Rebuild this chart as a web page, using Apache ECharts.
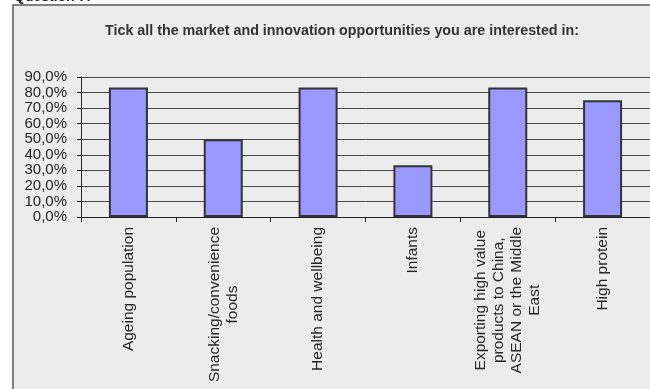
<!DOCTYPE html>
<html>
<head>
<meta charset="utf-8">
<script src="https://cdn.jsdelivr.net/npm/echarts@6/dist/echarts.min.js"></script>
<style>
  html, body { margin: 0; padding: 0; background: #fff; }
  #chart { width: 650px; height: 389px; }
</style>
</head>
<body>
<div id="chart"></div>
<script>
// Survey answers: share of respondents interested in each opportunity
const categories = [
  'Ageing population',
  'Snacking/convenience\nfoods',
  'Health and wellbeing',
  'Infants',
  'Exporting high value\nproducts to China,\nASEAN or the Middle\nEast',
  'High protein'
];
const shares = [83.3, 50.0, 83.3, 33.3, 83.3, 75.0];
const titleText = 'Tick all the market and innovation opportunities you are interested in:';
const questionText = 'Question 7:';

const FONT = '"Liberation Sans", Arial, sans-serif';
const TEXT = '#262626';

// The heading is set in a condensed semi-bold face; squeeze a bold face to that width.
const TITLE_FONT = 'bold 15.5px ' + FONT;
const TITLE_WIDTH = 474;
const ctx = document.createElement('canvas').getContext('2d');
ctx.font = TITLE_FONT;
const titleScaleX = TITLE_WIDTH / ctx.measureText(titleText).width;

const chart = echarts.init(document.getElementById('chart'), null, { renderer: 'canvas' });

chart.setOption({
  backgroundColor: '#ffffff',
  animation: false,
  graphic: [
    {
      type: 'rect',
      z: -10,
      shape: { x: 13, y: 5, width: 660, height: 400 },
      style: { fill: '#ececec', stroke: '#5a5a5a', lineWidth: 1.5 }
    },
    {
      type: 'text',
      left: 14,
      top: -10,
      style: { text: questionText, font: 'bold 14px ' + FONT, fill: '#222' }
    },
    {
      type: 'text',
      x: 105,
      y: 31,
      scaleX: titleScaleX,
      style: {
        text: titleText,
        font: TITLE_FONT,
        fill: '#333333',
        textAlign: 'left',
        textVerticalAlign: 'middle'
      }
    }
  ],
  grid: { left: 81, top: 77, right: -3, bottom: 172, containLabel: false },
  xAxis: {
    type: 'category',
    data: categories,
    axisLine: { show: true, lineStyle: { color: '#222', width: 1 } },
    axisTick: { show: true, length: 5, alignWithLabel: false, lineStyle: { color: '#222' } },
    axisLabel: {
      interval: 0,
      rotate: 90,
      margin: 10,
      formatter: v => v.split('\n').map(l => '{c|' + l + '}').join('\n'),
      rich: {
        c: {
          align: 'center',
          fontFamily: FONT,
          fontSize: 15.5,
          lineHeight: 18,
          color: TEXT
        }
      }
    }
  },
  yAxis: {
    type: 'value',
    min: 0,
    max: 90,
    interval: 10,
    axisLine: { show: true, lineStyle: { color: '#222', width: 1 } },
    axisTick: { show: true, length: 4, lineStyle: { color: '#222' } },
    axisLabel: {
      margin: 14,
      fontFamily: FONT,
      fontSize: 15,
      color: TEXT,
      formatter: v => v.toFixed(1).replace('.', ',') + '%'
    },
    splitLine: { show: true, lineStyle: { color: '#4a4a4a', width: 1 } }
  },
  series: [{
    type: 'bar',
    data: shares,
    barWidth: 39,
    itemStyle: { color: '#9999ff', borderColor: '#333333', borderWidth: 2 }
  }]
});
</script>
</body>
</html>
